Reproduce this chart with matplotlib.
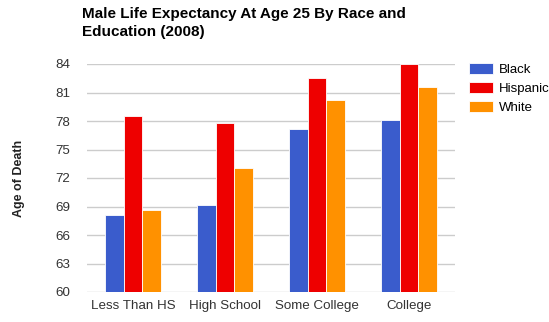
import matplotlib
matplotlib.use('Agg')
import matplotlib.pyplot as plt
import numpy as np

plt.rcParams['font.family'] = ['Liberation Sans', 'DejaVu Sans']

categories = ["Less Than HS", "High School", "Some College", "College"]
series_names = ["Black", "Hispanic", "White"]
black = [68.1, 69.2, 77.2, 78.1]
hispanic = [78.5, 77.8, 82.5, 83.95]
white = [68.6, 73.1, 80.2, 81.6]
y_ticks = [60, 63, 66, 69, 72, 75, 78, 81, 84]

colors = ['#3a5ccc', '#ee0000', '#ff9100']

fig = plt.figure(figsize=(5.49, 3.22), dpi=100)
ax = fig.add_axes([87 / 549, 30 / 322, 368 / 549, 228 / 322])

x = np.arange(len(categories))
bw = 0.205
for i, (vals, name) in enumerate(zip([black, hispanic, white], series_names)):
    ax.bar(x + (i - 1) * bw, vals, width=bw, color=colors[i], label=name,
           edgecolor='white', linewidth=0.6, zorder=3)

ax.set_xlim(-0.5, len(categories) - 0.5)
ax.set_ylim(60, 84)
ax.set_yticks(y_ticks)
ax.set_xticks(x)
ax.set_xticklabels(categories)
ax.tick_params(axis='both', length=0, labelsize=9.6, colors='#333333')
ax.tick_params(axis='y', pad=12)
ax.tick_params(axis='x', pad=6)
ax.grid(axis='y', color='#cccccc', linewidth=1, zorder=0)
for s in ax.spines.values():
    s.set_visible(False)

ax.set_ylabel("Age of Death", fontsize=9, fontweight='bold', color='#222222', labelpad=22)

fig.text(82 / 549, 1 - 7 / 322, "Male Life Expectancy At Age 25 By Race and\nEducation (2008)",
         fontsize=11, fontweight='bold', ha='left', va='top', linespacing=1.4)

fig.legend(loc='upper left', bbox_to_anchor=(469 / 549, 1 - 63 / 322), frameon=False, fontsize=9.5,
           borderpad=0, borderaxespad=0,
           handlelength=1.85, handleheight=0.9, labelspacing=0.45, handletextpad=0.4)

plt.savefig('out.png', dpi=100)
plt.close()
